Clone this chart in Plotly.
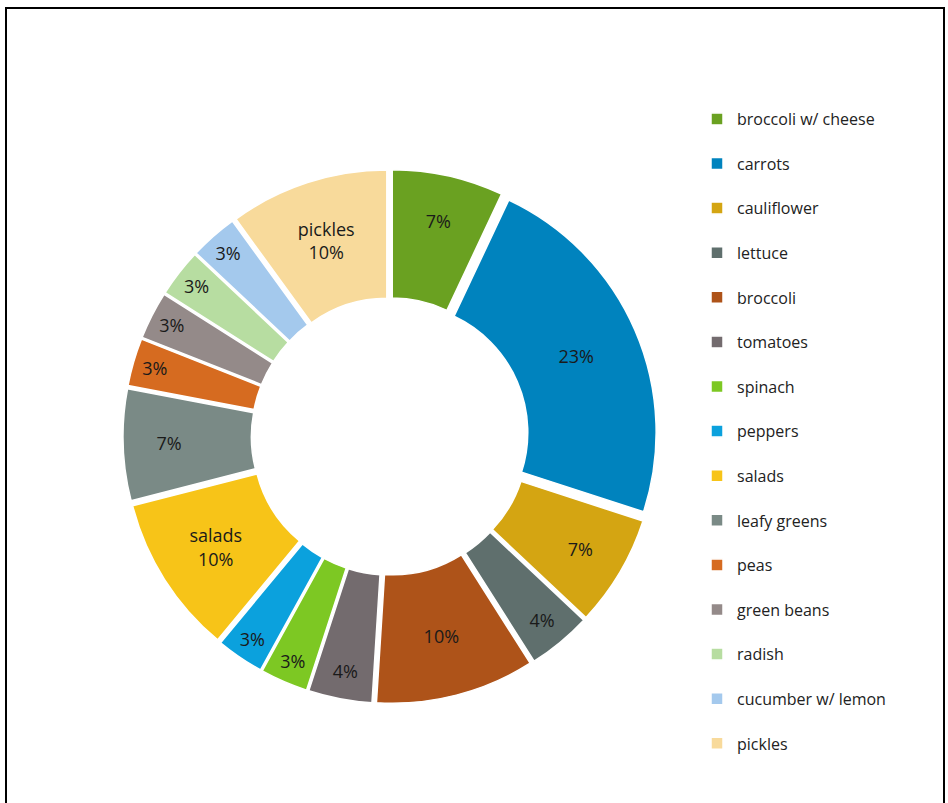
import plotly.graph_objects as go

categories = ["broccoli w/ cheese", "carrots", "cauliflower", "lettuce", "broccoli",
              "tomatoes", "spinach", "peppers", "salads", "leafy greens", "peas",
              "green beans", "radish", "cucumber w/ lemon", "pickles"]
values = [7, 23, 7, 4, 10, 4, 3, 3, 10, 7, 3, 3, 3, 3, 10]
colors = ["#6AA121", "#0083BE", "#D4A512", "#5F6F6D", "#AE5319", "#736B6E", "#7DC823",
          "#0BA1DD", "#F7C418", "#7A8A86", "#D66B20", "#948A89", "#B7DDA1", "#A4C9ED",
          "#F8DA9B"]
named_slices = ["salads", "pickles"]

slice_text = [(c + "<br>" if c in named_slices else "") + f"{v}%" for c, v in zip(categories, values)]
legend_labels = [c + "<br> " for c in categories]

W, H = 948, 803

fig = go.Figure(go.Pie(
    labels=legend_labels,
    values=values,
    text=slice_text,
    textinfo="text",
    textposition="inside",
    insidetextorientation="horizontal",
    textfont=dict(family="Open Sans, sans-serif", size=18, color="#1a1a1a"),
    marker=dict(colors=colors, line=dict(color="white", width=1.5)),
    hole=0.5,
    pull=0.04,
    sort=False,
    direction="clockwise",
    rotation=0,
    domain=dict(x=[123/W, 657/W], y=[1-705/H, 1-168/H]),
    hoverinfo="skip",
))

fig.update_layout(
    width=W, height=H,
    margin=dict(l=0, r=0, t=0, b=0),
    paper_bgcolor="white",
    showlegend=True,
    legend=dict(x=697/W, xanchor="left", y=1-102/H, yanchor="top",
                valign="top",
                font=dict(family="Open Sans, sans-serif", size=16, color="#222222")),
    shapes=[dict(type="rect", xref="paper", yref="paper",
                 x0=6/W, x1=944/W, y0=1-8/H, y1=-0.05,
                 line=dict(color="black", width=2))],
    uniformtext=dict(minsize=18, mode="show"),
)

fig.write_html("out.html", config={"displayModeBar": False},
               post_script="document.body.style.margin='0px';document.body.style.overflow='hidden';")
